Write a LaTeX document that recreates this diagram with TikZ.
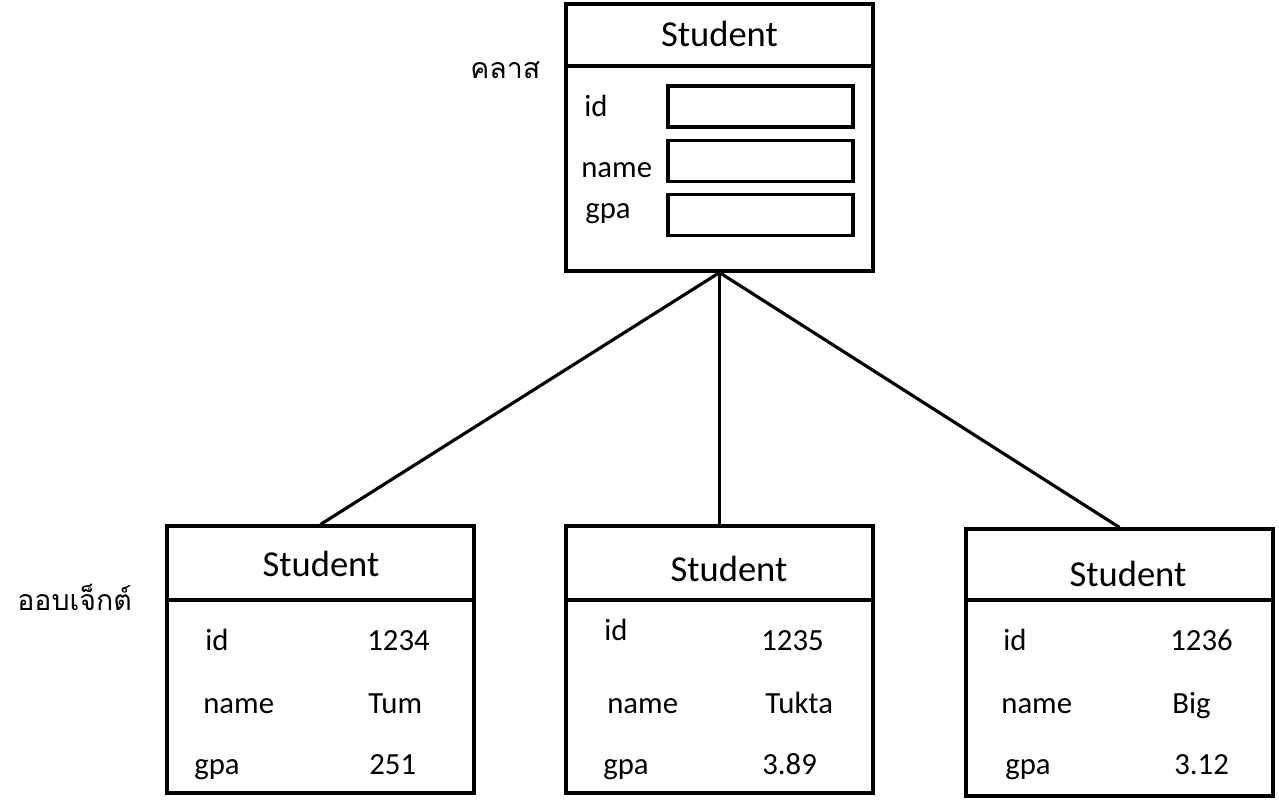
\documentclass[tikz,border=0pt]{standalone}
\usepackage{fontspec}
\setmainfont{Carlito}
\newfontfamily\thaifont[Script=Thai]{Loma}
\begin{document}
\begin{tikzpicture}[x=0.02cm,y=-0.02cm,
    box/.style={draw,line width=1.8pt,minimum width=6.14cm,minimum height=5.34cm,inner sep=0pt},
    slot/.style={draw,line width=1.8pt,minimum width=3.7cm,minimum height=0.82cm,inner sep=0pt},
    head/.style={font=\fontsize{20.8}{25}\selectfont,anchor=base},
    txt/.style={font=\fontsize{17.5}{21}\selectfont,anchor=base west,inner sep=0pt},
    thai/.style={font=\thaifont\fontsize{16.2}{20}\selectfont,anchor=base west,inner sep=0pt}]
 \useasboundingbox (0,0) rectangle (1279,800);
 % class
 \node[box] (cls) at (719.5,137.5) {};
 \draw[line width=1.8pt] (cls.west |- 0,66) -- (cls.east |- 0,66);
 \node[head] (clshead) at (719.5,47) {Student};
 \node[slot] (slotid) at (760.5,106.5) {};
 \node[slot] (slotname) at (760.5,161) {};
 \node[slot] (slotgpa) at (760.5,215) {};
 \node[txt] (clsid) at (584,117) {id};
 \node[txt] (clsname) at (581,178) {name};
 \node[txt] (clsgpa) at (585,219) {gpa};
 \node[thai] (lblclass) at (470,79) {คลาส};
 % objects
 \node[box] (obja) at (320.5,659.5) {};
 \node[box] (objb) at (719.5,659.5) {};
 \node[box] (objc) at (1119.5,662.5) {};
 \foreach \o in {obja,objb,objc}
   \draw[line width=1.8pt] (\o.west |- 0,600) -- (\o.east |- 0,600);
 \node[head] (heada) at (321,577) {Student};
 \node[head] (headb) at (729,582) {Student};
 \node[head] (headc) at (1128,587) {Student};
 \node[thai] (lblobject) at (17,611) {ออบเจ็กต์};
 \node[txt] (ida) at (205,651) {id};
 \node[txt] (vida) at (367,651) {1234};
 \node[txt] (namea) at (203,713) {name};
 \node[txt] (vnamea) at (368,713) {Tum};
 \node[txt] (gpaa) at (194,774) {gpa};
 \node[txt] (vgpaa) at (369,774) {251};
 \node[txt] (idb) at (604,641) {id};
 \node[txt] (vidb) at (761,651) {1235};
 \node[txt] (nameb) at (607,713) {name};
 \node[txt] (vnameb) at (765,713) {Tukta};
 \node[txt] (gpab) at (603,774) {gpa};
 \node[txt] (vgpab) at (762,774) {3.89};
 \node[txt] (idc) at (1003,651) {id};
 \node[txt] (vidc) at (1170,651) {1236};
 \node[txt] (namec) at (1001,713) {name};
 \node[txt] (vnamec) at (1172,713) {Big};
 \node[txt] (gpac) at (1005,774) {gpa};
 \node[txt] (vgpac) at (1174,774) {3.12};
 % links
 \draw[line width=1.8pt] (cls.south) -- (obja.north);
 \draw[line width=1.8pt] (cls.south) -- (objb.north);
 \draw[line width=1.8pt] (cls.south) -- (objc.north);
\end{tikzpicture}
\end{document}
